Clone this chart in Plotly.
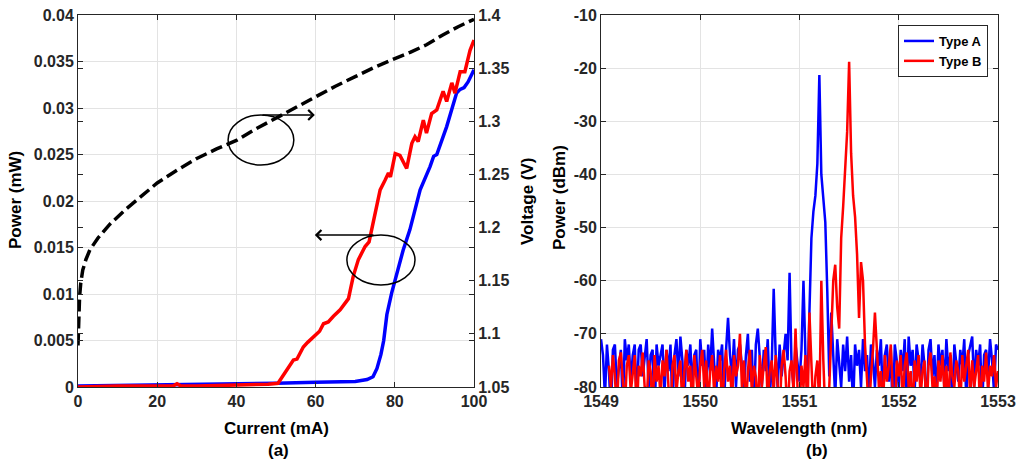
import plotly.graph_objects as go

# ---------------- (a) L-I-V data ----------------
current_blue = [0, 10, 20, 30, 40, 50, 60, 70, 73, 74.5, 75.5, 76.5, 77.2, 78, 79.2, 80.5,
                82.1, 83.8, 85.1, 86.4, 88.9, 89.8, 90.6, 93.1, 95.6, 96.5, 97.5, 98.5, 100]
power_blue = [0.0001, 0.00015, 0.0002, 0.00025, 0.0003, 0.0004, 0.0005, 0.0006, 0.0008, 0.0011,
              0.002, 0.0035, 0.005, 0.0078, 0.0101, 0.0122, 0.0147, 0.0169, 0.019, 0.0212,
              0.0237, 0.0248, 0.025, 0.028, 0.0316, 0.032, 0.0322, 0.0328, 0.0341]

current_red = [0, 10, 20, 24, 25, 26, 30, 40, 48, 50.5, 51.5, 52.7, 54.4, 55.3, 56.9, 58, 59.4,
               61, 62, 63.2, 64.5, 66.2, 68.3, 69.5, 70.8, 72.5, 73.5, 74.2, 75.4, 76.3, 77.5,
               78.4, 78.9, 80.1, 81.3, 83, 84.3, 85.1, 85.9, 87.2, 88, 89.3, 90.6, 92.2, 93.1,
               94.4, 95.2, 96.5, 97.7, 99, 100]
power_red = [0, 0.0001, 0.0001, 0.0001, 0.00035, 0.0001, 0.0001, 0.0002, 0.0003, 0.0004, 0.001,
             0.0018, 0.0029, 0.003, 0.0043, 0.0048, 0.0054, 0.006, 0.0068, 0.007, 0.0076, 0.0083,
             0.0095, 0.0119, 0.0137, 0.0151, 0.0156, 0.0169, 0.0195, 0.0212, 0.0222, 0.023,
             0.0226, 0.0251, 0.0249, 0.0235, 0.0262, 0.0269, 0.0264, 0.0287, 0.0273, 0.0294,
             0.0298, 0.0318, 0.0307, 0.0327, 0.0316, 0.0339, 0.0339, 0.0362, 0.0373]

current_v = [0, 0.15, 0.4, 0.7, 1.2, 2, 3, 5, 8, 12, 16, 20, 25, 30, 35, 40, 45, 50, 55, 60,
             65, 70, 75, 80, 84, 88, 92, 96, 100]
voltage = [1.089, 1.115, 1.135, 1.148, 1.16, 1.17, 1.179, 1.19, 1.203, 1.217, 1.23, 1.242,
           1.254, 1.265, 1.274, 1.282, 1.293, 1.303, 1.313, 1.323, 1.333, 1.342, 1.351, 1.359,
           1.365, 1.372, 1.381, 1.389, 1.396]

# ---------------- (b) spectra data ----------------
wl_start, wl_step = 1549.0, 0.02
type_a = [
    -71, -74, -82, -72, -77, -85, -73, -72, -80, -76,
    -73, -84, -71, -75, -72, -79, -74, -72, -83, -73,
    -72, -78, -75, -71, -80, -74, -73, -86, -72, -76,
    -74, -72, -81, -73, -77, -72, -84, -74, -71, -78,
    -70.5, -75, -83, -73, -76, -72, -80, -74, -73, -85,
    -71, -76, -73, -81, -72, -77, -69, -75, -82, -73,
    -75, -72, -84, -73, -67, -74, -78, -71, -80, -73,
    -72, -76, -81, -74, -70, -79, -73, -85, -72, -69,
    -75, -80, -73, -77, -71, -82, -76, -61.5, -74, -80,
    -72, -78, -74, -70, -75, -58.5, -76, -80, -72, -76,
    -79, -73, -60, -74, -80, -66, -52, -47, -44, -38,
    -21.3, -40, -45, -49, -62, -78, -66, -76, -82, -71,
    -75, -80, -72, -77, -70.5, -79, -74, -84, -72, -76,
    -73, -80, -71, -77, -74, -82, -72, -75, -80, -73,
    -76, -71, -83, -74, -72, -79, -73, -86, -72, -75,
    -80, -73, -77, -71, -84, -70.5, -76, -73, -81, -72,
    -75, -79, -72, -76, -85, -73, -71, -78, -74, -82,
    -72, -76, -73, -80, -71, -77, -74, -84, -72, -75,
    -79, -73, -76, -71, -82, -74, -72, -70.5, -80, -73,
    -76, -72, -84, -74, -73, -78, -71, -75, -81, -72,
    -73,
]
type_b = [
    None, None, None, None, -76, -80, -74, -78, -85, -75,
    -73.5, -79, -84, -76, -74, -81, -77, -74, -86, -76,
    -78, -73.5, -80, -83, -75, -77, -85, -74, -79, -76,
    -82, -75, -78, -73, -80, -86, -76, -74, -81, -77,
    -75, -84, -77, -73, -79, -76, -85, -74, -78, -82,
    -76, -73, -80, -75, -84, -77, -74, -81, -76, -79,
    -74, -85, -77, -73, -79, -76, -83, -74, -78, -76,
    -70, -80, -75, -84, -77, -73, -81, -76, -78, -85,
    -74, -80, -76, -72.5, -83, -77, -75, -81, -74, -79,
    -85, -76, -73, -78, -86, -77, -75, -81, -69, -80,
    -85, -76, -80, -74, -86, -66, -80, -85, -78, -75,
    -84, -60, -75, -85, -84, -80, -70, -60, -57, -65,
    -69, -52, -46, -39, -32, -18.8, -36, -44, -48, -55,
    -67, -56.5, -60, -72, -80, -85, -78, -73, -66, -72,
    -80, -77, -85, -74, -79, -76, -72, -81, -86, -75,
    -78, -74, -83, -76, -73.5, -80, -77, -85, -75, -79,
    -74, -82, -77, -75, -86, -76, -73.5, -80, -78, -84,
    -75, -79, -74, -81, -76, -85, -73.5, -78, -80, -75,
    -77, -84, -74, -79, -76, -73, -82, -75, -80, -77,
    -74, -85, -76, -79, -73.5, -81, -76, -78, -74, -80,
    -77,
]
wavelength = [round(wl_start + wl_step * i, 2) for i in range(len(type_a))]

# tick labels of the spectrum power axis (hyphen-minus as in the original)
dbm_ticks = [-80, -70, -60, -50, -40, -30, -20, -10]
dbm_labels = ["-80", "-70", "-60", "-50", "-40", "-30", "-20", "-10"]

FONT = "Liberation Sans, Arial, sans-serif"
AXC = "#262626"
GRID = "#e3e3e3"
W, H = 1016, 461

def px(x):
    return x / W

def py(y):
    return 1 - y / H

fig = go.Figure()

# (a) traces
fig.add_trace(go.Scatter(x=current_blue, y=power_blue, mode="lines",
                         line=dict(color="#0000ff", width=3.5), xaxis="x", yaxis="y",
                         showlegend=False))
fig.add_trace(go.Scatter(x=current_red, y=power_red, mode="lines",
                         line=dict(color="#ff0000", width=3.5), xaxis="x", yaxis="y",
                         showlegend=False))
fig.add_trace(go.Scatter(x=current_v, y=voltage, mode="lines",
                         line=dict(color="black", width=3.5, dash="12px,5px"),
                         xaxis="x", yaxis="y2", showlegend=False))

# (b) traces
fig.add_trace(go.Scatter(x=wavelength, y=type_a, mode="lines", name="Type A",
                         line=dict(color="#0000ff", width=2.5), xaxis="x2", yaxis="y3"))
fig.add_trace(go.Scatter(x=wavelength, y=type_b, mode="lines", name="Type B",
                         line=dict(color="#ff0000", width=2.5), xaxis="x2", yaxis="y3"))

tickfont = dict(family=FONT, size=16, color=AXC, weight="bold")
common = dict(showline=True, linecolor=AXC, linewidth=1, ticks="inside", ticklen=5,
              tickcolor=AXC, tickfont=tickfont, zeroline=False, mirror="ticks",
              gridcolor=GRID, gridwidth=1)

dom_a = [px(78), px(474)]
dom_b = [px(601), px(998)]
dom_y = [py(387), py(15)]

fig.update_layout(
    width=W, height=H, autosize=False,
    margin=dict(l=0, r=0, t=0, b=0, autoexpand=False),
    paper_bgcolor="white", plot_bgcolor="white",
    font=dict(family=FONT, color="black", weight="bold"),
    xaxis=dict(domain=dom_a, range=[0, 100], dtick=20, anchor="y", showgrid=True, **common),
    yaxis=dict(domain=dom_y, range=[0, 0.04], dtick=0.005, anchor="x", showgrid=True, **common),
    yaxis2=dict(range=[1.05, 1.4], dtick=0.05, overlaying="y", side="right", anchor="x",
                showgrid=False, **common),
    xaxis2=dict(domain=dom_b, range=[1549, 1553], dtick=1, anchor="y3", showgrid=True,
                **common),
    yaxis3=dict(domain=dom_y, range=[-80, -10], tickmode="array", tickvals=dbm_ticks,
                ticktext=dbm_labels, anchor="x2", showgrid=True, **common),
    legend=dict(x=px(988), y=py(25), xanchor="right", yanchor="top",
                bordercolor=AXC, borderwidth=1, bgcolor="white",
                font=dict(family=FONT, size=13, color="black", weight="bold"),
                itemwidth=30, tracegroupgap=0),
)

# axis titles and panel labels
title_font = dict(family=FONT, size=17, color="black", weight="bold")
labels = [
    ("Current (mA)", 276, 428, 0),
    ("(a)", 278, 450, 0),
    ("Wavelength (nm)", 799, 428, 0),
    ("(b)", 817, 450, 0),
    ("Power (mW)", 15, 200, -90),
    ("Voltage (V)", 527, 201, -90),
    ("Power (dBm)", 560, 198, -90),
]
for text, x, y, ang in labels:
    fig.add_annotation(text=text, x=px(x), y=py(y), xref="paper", yref="paper",
                       xanchor="center", yanchor="middle", showarrow=False,
                       textangle=ang, font=title_font)

# ellipses (data coordinates of panel a)
fig.add_shape(type="circle", xref="x", yref="y", x0=37.9, x1=54.5, y0=0.02387, y1=0.02925,
              line=dict(color="black", width=1.5))
fig.add_shape(type="circle", xref="x", yref="y", x0=67.9, x1=85.1, y0=0.01097, y1=0.01634,
              line=dict(color="black", width=1.5))

# arrows
fig.add_annotation(x=59.8, y=0.02925, ax=46.2, ay=0.02925, xref="x", yref="y",
                   axref="x", ayref="y", showarrow=True, arrowhead=4, arrowsize=1.3,
                   arrowwidth=1.5, arrowcolor="black", text="")
fig.add_annotation(x=59.8, y=0.01634, ax=75, ay=0.01634, xref="x", yref="y",
                   axref="x", ayref="y", showarrow=True, arrowhead=4, arrowsize=1.3,
                   arrowwidth=1.5, arrowcolor="black", text="")

fig.write_html(
    "out.html",
    config={"displayModeBar": False},
    post_script="document.documentElement.style.margin='0';"
                "document.body.style.margin='0';"
                "document.body.style.overflow='hidden';",
)
